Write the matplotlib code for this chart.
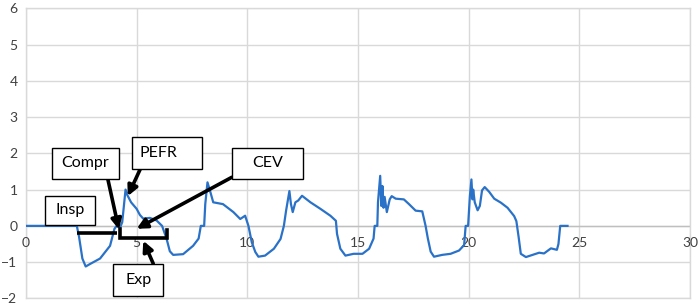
import matplotlib
matplotlib.use("Agg")
import matplotlib.pyplot as plt
from matplotlib.patches import Rectangle

plt.rcParams['font.family'] = ['Lato', 'DejaVu Sans']

# Flow signal (time in s, flow in L/s)
t = [0, 1.5, 2.3, 2.4, 2.55, 2.7, 2.9, 3.35, 3.8, 4.0, 4.1, 4.25, 4.35, 4.5, 4.58, 4.75,
     5.0, 5.15, 5.3, 5.6, 5.9, 6.15, 6.35, 6.5, 6.65, 7.1, 7.55, 7.8, 7.9, 8.05, 8.1, 8.2,
     8.3, 8.46, 8.9, 9.37, 9.68, 9.9, 10.05, 10.2, 10.36, 10.5, 10.8, 11.2, 11.5, 11.65,
     11.75, 11.9, 11.97, 12.05, 12.17, 12.3, 12.47, 12.85, 13.3, 13.75, 14.0, 14.05, 14.2,
     14.43, 14.8, 15.2, 15.5, 15.7, 15.75, 15.87, 15.9, 16.0, 16.05, 16.1, 16.15, 16.2,
     16.3, 16.43, 16.52, 16.7, 17.07, 17.3, 17.6, 17.9, 18.05, 18.15, 18.28, 18.43, 18.8,
     19.18, 19.56, 19.79, 19.86, 19.97, 20.05, 20.12, 20.17, 20.2, 20.27, 20.4, 20.5, 20.6,
     20.72, 20.92, 21.15, 21.45, 21.75, 22.05, 22.15, 22.25, 22.35, 22.58, 22.88, 23.18,
     23.4, 23.71, 23.98, 24.05, 24.13, 24.46]
flow = [0, 0, 0, -0.3, -0.9, -1.12, -1.05, -0.9, -0.55, -0.08, 0.0, -0.05, 0.1, 1.0, 0.85,
        0.65, 0.47, 0.3, 0.2, 0.22, 0.15, 0.0, -0.35, -0.7, -0.8, -0.78, -0.55, -0.35, 0.0,
        0.0, 0.6, 1.2, 1.0, 0.65, 0.6, 0.38, 0.19, 0.28, 0.0, -0.45, -0.72, -0.85, -0.82,
        -0.63, -0.36, 0.0, 0.42, 0.96, 0.6, 0.38, 0.65, 0.7, 0.83, 0.65, 0.47, 0.28, 0.14,
        -0.22, -0.63, -0.82, -0.77, -0.77, -0.63, -0.35, 0.0, 0.0, 0.65, 1.38, 0.55, 1.1,
        0.5, 0.8, 0.38, 0.73, 0.82, 0.75, 0.73, 0.6, 0.42, 0.4, 0.0, -0.34, -0.71, -0.85,
        -0.8, -0.77, -0.68, -0.53, 0.0, 0.0, 0.82, 1.28, 0.73, 1.0, 0.65, 0.43, 0.55, 0.98,
        1.07, 0.94, 0.75, 0.64, 0.5, 0.27, 0.13, -0.3, -0.77, -0.86, -0.8, -0.74, -0.76,
        -0.62, -0.66, -0.5, 0.0, 0.0]

x_ticks = [0, 5, 10, 15, 20, 25, 30]
y_ticks = [-2, -1, 0, 1, 2, 3, 4, 5, 6]
labels = ["Insp", "Compr", "PEFR", "CEV", "Exp"]

fig = plt.figure(figsize=(7.0, 3.07), dpi=100)
ax = fig.add_axes([0.037, 0.028, 0.949, 0.945])
ax.set_xlim(0, 30)
ax.set_ylim(-2, 6)
ax.set_xticks(x_ticks)
ax.set_yticks(y_ticks)
ax.grid(True, color='#d9d9d9', linewidth=1.0)
ax.set_axisbelow(True)
for s in ax.spines.values():
    s.set_color('#d9d9d9')
    s.set_linewidth(1.0)
ax.tick_params(axis='both', length=0, labelsize=10, colors='#404040')
ax.tick_params(axis='y', pad=6)
ax.set_xticklabels([])
ax.axhline(0, color='#bfbfbf', linewidth=1.0, zorder=1)
for xt in x_ticks:
    ax.annotate(str(xt), (xt, 0), xytext=(0, -12), textcoords='offset points',
                ha='center', va='center', fontsize=10, color='#404040')

ax.plot(t, flow, color='#2a72c8', linewidth=1.6, zorder=3)

# annotation boxes (x0, y0, x1, y1) in data units
boxes = [(0.86, 0.03, 3.1, 0.82), (1.18, 1.29, 4.2, 2.16), (4.8, 1.56, 7.96, 2.44),
         (9.3, 1.29, 12.5, 2.16), (3.95, -1.92, 6.2, -1.04)]
for lab, (x0, y0, x1, y1) in zip(labels, boxes):
    ax.add_patch(Rectangle((x0, y0), x1 - x0, y1 - y0, facecolor='white',
                           edgecolor='black', linewidth=1.0, zorder=5))
    tx = (x0 + x1) / 2 if lab != "PEFR" else x0 + (x1 - x0) * 0.37
    ax.text(tx, (y0 + y1) / 2, lab, ha='center', va='center', fontsize=11.5,
            color='black', zorder=6)

lw = 2.6
# Insp line
ax.plot([2.3, 4.1], [-0.19, -0.19], color='black', linewidth=lw, zorder=4,
        solid_capstyle='butt')
# Exp bracket
ax.plot([4.25, 4.25, 6.38, 6.38], [-0.08, -0.33, -0.33, -0.1], color='black',
        linewidth=lw, zorder=4, solid_joinstyle='miter')
arrows = [((3.7, 1.29), (4.2, -0.1)),   # Compr
          ((5.16, 1.56), (4.6, 0.82)),  # PEFR
          ((9.3, 1.34), (5.0, -0.08)),  # CEV
          ((5.75, -1.04), (5.3, -0.41))]  # Exp
for (x0, y0), (x1, y1) in arrows:
    ax.annotate('', xy=(x1, y1), xytext=(x0, y0),
                arrowprops=dict(arrowstyle='-|>,head_length=0.6,head_width=0.3',
                                color='black', lw=lw, shrinkA=0, shrinkB=0),
                zorder=4)

fig.savefig('out.png', dpi=100)
